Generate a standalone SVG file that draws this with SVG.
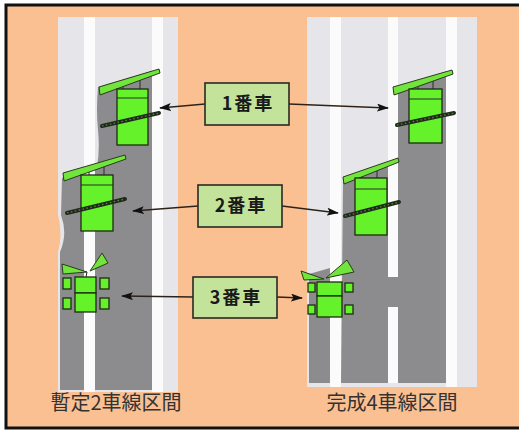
<svg xmlns="http://www.w3.org/2000/svg" width="519" height="430" viewBox="0 0 519 430">
  <defs>
    <style>
      .band { fill: #E6E6EA; }
      .stripe { fill: #FBFBFC; }
      .asphalt { fill: #8C8C8E; }
      .body { fill: #66F22A; stroke: #1E2A14; stroke-width: 1.3; }
      .mirror { fill: #72E53C; stroke: #2A3A1C; stroke-width: 1; }
      .link { stroke: #2A2A2A; stroke-width: 1; }
      .axleOuter { stroke: #22281E; stroke-width: 4; stroke-linecap: round; }
      .axleInner { stroke: #4C9A28; stroke-width: 1.2; stroke-dasharray: 1.5 2.5; }
      .label { fill: #C4E39A; stroke: #2A2A20; stroke-width: 1.6; }
      .labelText { font-family: "Noto Sans CJK JP", "Noto Sans", sans-serif; font-weight: bold; font-size: 18px; fill: #1A1A1A; letter-spacing: 2px; }
      .caption { font-family: "Noto Sans CJK JP", "Noto Sans", sans-serif; font-size: 20px; fill: #333333; }
      .conn { stroke: #2E2218; stroke-width: 1.3; fill: none; marker-end: url(#head); }
    </style>
    <marker id="head" viewBox="0 0 12 8" refX="11" refY="4" markerWidth="12" markerHeight="8" markerUnits="userSpaceOnUse" orient="auto">
      <path d="M0,0 L12,4 L0,8 L2.5,4 Z" fill="#111"/>
    </marker>
  </defs>

  <!-- background and frame -->
  <rect x="6" y="5" width="520" height="423" fill="#FAC092" stroke="#111" stroke-width="3"/>

  <!-- two-lane (provisional) road -->
  <g id="road-2lane">
    <path class="band" d="M58,17 L178,17 L178,392 L58,392 L58,252 Q63,234 58,215 Z"/>
    <path class="asphalt" d="M98,87 L152,71 L152,390 L60,390 L60,252 Q68,234 61,215 L62,178 L97,167 Q100,150 98,130 Q96,110 98,87 Z"/>
    <rect class="stripe" x="84" y="17" width="11" height="375"/>
    <rect class="stripe" x="152" y="17" width="11" height="375"/>
  </g>

  <!-- four-lane (completed) road -->
  <g id="road-4lane">
    <rect class="band" x="307" y="17" width="170" height="370"/>
    <path class="asphalt" d="M397,88 L446,73 L446,383 L398,383 Z"/>
    <path class="asphalt" d="M343,182 L398,161 L398,383 L341,383 Z"/>
    <path class="asphalt" d="M309,274 L330,268 L330,383 L309,383 Z"/>
    <rect class="stripe" x="330" y="17" width="11" height="370"/>
    <rect class="stripe" x="446" y="17" width="11" height="370"/>
    <rect class="stripe" x="388" y="17" width="10" height="260"/>
    <rect class="stripe" x="388" y="307" width="10" height="76"/>
  </g>

  <!-- vehicle 1, two-lane section -->
  <g id="car1-left">
    <line class="link" x1="123" y1="84" x2="123" y2="89"/>
    <line class="link" x1="140" y1="79" x2="140" y2="89"/>
    <polygon class="mirror" points="99,87 159,69 160,73 100,95"/>
    <rect class="body" x="117" y="89" width="31" height="56"/>
    <line class="link" x1="117" y1="98" x2="148" y2="98"/>
    <line class="axleOuter" x1="102" y1="126" x2="159" y2="113"/>
    <line class="axleInner" x1="102" y1="126" x2="159" y2="113"/>
  </g>

  <!-- vehicle 1, four-lane section -->
  <g id="car1-right">
    <line class="link" x1="418" y1="82" x2="418" y2="89"/>
    <line class="link" x1="433" y1="78" x2="433" y2="89"/>
    <polygon class="mirror" points="393,87 452,70 453,74 394,95"/>
    <rect class="body" x="409" y="89" width="33" height="54"/>
    <line class="link" x1="409" y1="99" x2="442" y2="99"/>
    <line class="axleOuter" x1="397" y1="125" x2="454" y2="113"/>
    <line class="axleInner" x1="397" y1="125" x2="454" y2="113"/>
  </g>

  <!-- vehicle 2, two-lane section -->
  <g id="car2-left">
    <line class="link" x1="89" y1="169" x2="89" y2="175"/>
    <line class="link" x1="104" y1="165" x2="104" y2="175"/>
    <polygon class="mirror" points="63,173 125,155 126,159 64,181"/>
    <rect class="body" x="81" y="175" width="32" height="56"/>
    <line class="link" x1="81" y1="185" x2="113" y2="185"/>
    <line class="axleOuter" x1="67" y1="213" x2="125" y2="199"/>
    <line class="axleInner" x1="67" y1="213" x2="125" y2="199"/>
  </g>

  <!-- vehicle 2, four-lane section -->
  <g id="car2-right">
    <line class="link" x1="362" y1="172" x2="362" y2="178"/>
    <line class="link" x1="377" y1="166" x2="377" y2="178"/>
    <polygon class="mirror" points="343,177 398,158 399,162 344,184"/>
    <rect class="body" x="355" y="178" width="32" height="57"/>
    <line class="link" x1="355" y1="189" x2="387" y2="189"/>
    <line class="axleOuter" x1="345" y1="216" x2="399" y2="202"/>
    <line class="axleInner" x1="345" y1="216" x2="399" y2="202"/>
  </g>

  <!-- vehicle 3, two-lane section -->
  <g id="car3-left">
    <line class="link" x1="87" y1="272" x2="86" y2="277" stroke="#DDD"/>
    <polygon class="mirror" points="62,264 63,274 87,272"/>
    <polygon class="mirror" points="90,271 102,253 108,263"/>
    <rect class="body" x="75" y="277" width="21" height="16"/>
    <rect class="body" x="75" y="293" width="21" height="19"/>
    <rect class="body" x="63" y="278" width="8" height="11"/>
    <rect class="body" x="100" y="278" width="9" height="11"/>
    <rect class="body" x="63" y="298" width="8" height="11"/>
    <rect class="body" x="100" y="298" width="9" height="11"/>
  </g>

  <!-- vehicle 3, four-lane section -->
  <g id="car3-right">
    <polygon class="mirror" points="301,271 304,280 324,279"/>
    <polygon class="mirror" points="326,278 347,260 354,272"/>
    <rect class="body" x="317" y="282" width="25" height="14"/>
    <rect class="body" x="317" y="296" width="25" height="21"/>
    <rect class="body" x="308" y="283" width="7" height="9"/>
    <rect class="body" x="345" y="283" width="8" height="9"/>
    <rect class="body" x="308" y="305" width="7" height="9"/>
    <rect class="body" x="345" y="305" width="8" height="9"/>
  </g>

  <!-- callout connectors -->
  <g id="connectors">
    <line class="conn" x1="205" y1="104" x2="160" y2="108"/>
    <line class="conn" x1="289" y1="104" x2="388" y2="108"/>
    <line class="conn" x1="198" y1="206" x2="133" y2="211"/>
    <line class="conn" x1="282" y1="206" x2="338" y2="213"/>
    <line class="conn" x1="193" y1="297" x2="122" y2="296"/>
    <line class="conn" x1="277" y1="297" x2="302" y2="298"/>
  </g>

  <!-- callout labels -->
  <g id="label-1">
    <rect class="label" x="205" y="83" width="84" height="42"/>
    <text class="labelText" x="248" y="110" text-anchor="middle">1番車</text>
  </g>
  <g id="label-2">
    <rect class="label" x="198" y="185" width="84" height="42"/>
    <text class="labelText" x="241" y="212" text-anchor="middle">2番車</text>
  </g>
  <g id="label-3">
    <rect class="label" x="193" y="277" width="84" height="41"/>
    <text class="labelText" x="236" y="304" text-anchor="middle">3番車</text>
  </g>

  <!-- section captions -->
  <g id="caption-left">
    <text class="caption" x="116" y="410" text-anchor="middle">暫定2車線区間</text>
  </g>
  <g id="caption-right">
    <text class="caption" x="392" y="410" text-anchor="middle">完成4車線区間</text>
  </g>
</svg>
